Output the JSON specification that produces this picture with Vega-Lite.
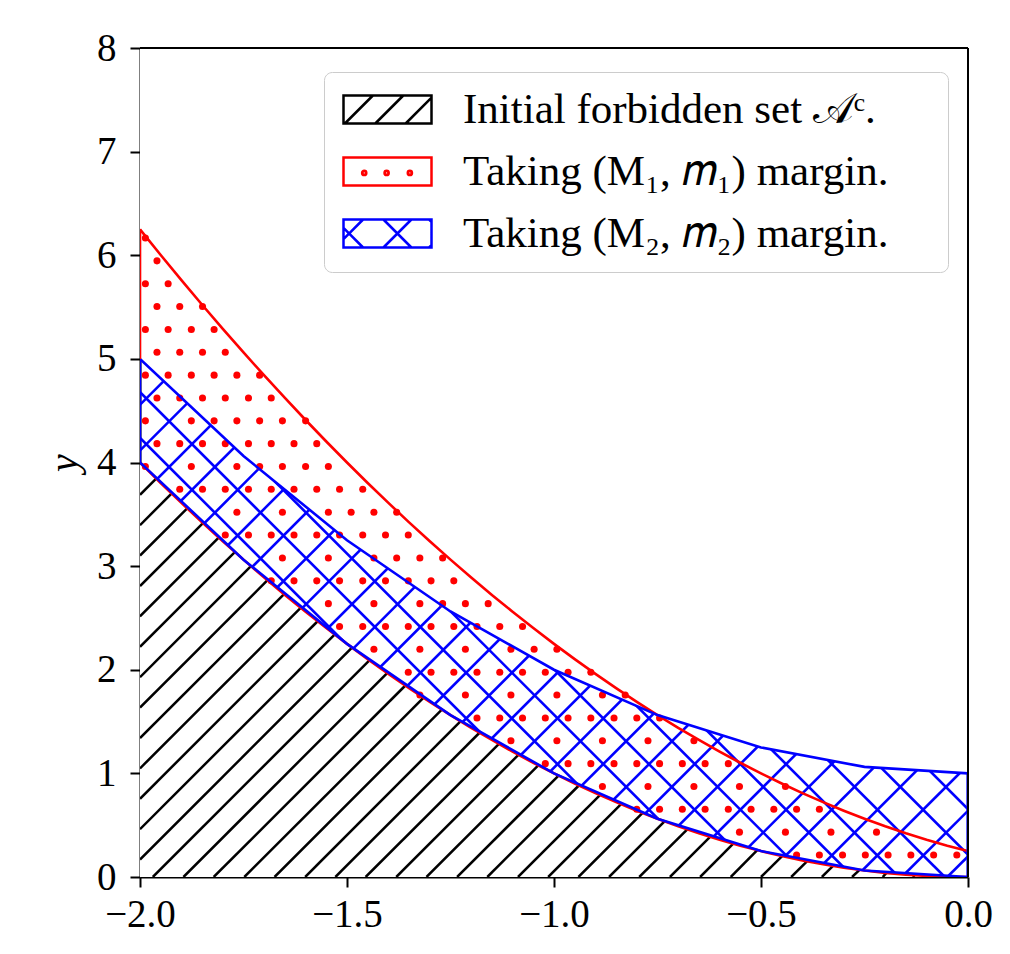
{
"$schema":"https://vega.github.io/schema/vega-lite/v6.json",
"width":828,"height":829,
"autosize":{"type":"none"},
"padding":{"left":140,"top":48,"right":42,"bottom":77},
"background":"white",
"datasets":{
"one":[{}],
"curves":[{"x":-2,"sq":4,"red":6.25},{"x":-1.95,"sq":3.8025,"red":6.0025},{"x":-1.9,"sq":3.61,"red":5.76},{"x":-1.85,"sq":3.4225,"red":5.5225},{"x":-1.8,"sq":3.24,"red":5.29},{"x":-1.75,"sq":3.0625,"red":5.0625},{"x":-1.7,"sq":2.89,"red":4.84},{"x":-1.65,"sq":2.7225,"red":4.6225},{"x":-1.6,"sq":2.56,"red":4.41},{"x":-1.55,"sq":2.4025,"red":4.2025},{"x":-1.5,"sq":2.25,"red":4.0},{"x":-1.45,"sq":2.1025,"red":3.8025},{"x":-1.4,"sq":1.96,"red":3.61},{"x":-1.35,"sq":1.8225,"red":3.4225},{"x":-1.3,"sq":1.69,"red":3.24},{"x":-1.25,"sq":1.5625,"red":3.0625},{"x":-1.2,"sq":1.44,"red":2.89},{"x":-1.15,"sq":1.3225,"red":2.7225},{"x":-1.1,"sq":1.21,"red":2.56},{"x":-1.05,"sq":1.1025,"red":2.4025},{"x":-1,"sq":1,"red":2.25},{"x":-0.95,"sq":0.9025,"red":2.1025},{"x":-0.9,"sq":0.81,"red":1.96},{"x":-0.85,"sq":0.7225,"red":1.8225},{"x":-0.8,"sq":0.64,"red":1.69},{"x":-0.75,"sq":0.5625,"red":1.5625},{"x":-0.7,"sq":0.49,"red":1.44},{"x":-0.65,"sq":0.4225,"red":1.3225},{"x":-0.6,"sq":0.36,"red":1.21},{"x":-0.55,"sq":0.3025,"red":1.1025},{"x":-0.5,"sq":0.25,"red":1.0},{"x":-0.45,"sq":0.2025,"red":0.9025},{"x":-0.4,"sq":0.16,"red":0.81},{"x":-0.35,"sq":0.1225,"red":0.7225},{"x":-0.3,"sq":0.09,"red":0.64},{"x":-0.25,"sq":0.0625,"red":0.5625},{"x":-0.2,"sq":0.04,"red":0.49},{"x":-0.15,"sq":0.0225,"red":0.4225},{"x":-0.1,"sq":0.01,"red":0.36},{"x":-0.05,"sq":0.0025,"red":0.3025},{"x":0,"sq":0,"red":0.25}],
"band":[{"x":-2,"lo":4,"hi":5},{"x":-1.75,"lo":3.0625,"hi":4.0625},{"x":-1.5,"lo":2.25,"hi":3.25},{"x":-1.25,"lo":1.5625,"hi":2.5625},{"x":-1,"lo":1,"hi":2},{"x":-0.75,"lo":0.5625,"hi":1.5625},{"x":-0.5,"lo":0.25,"hi":1.25},{"x":-0.25,"lo":0.0625,"hi":1.0625},{"x":0,"lo":0,"hi":1}],
"bh":[
{"x":-0.050,"y":0,"x2":1.952,"y2":8},{"x":-0.160,"y":0,"x2":1.842,"y2":8},{"x":-0.271,"y":0,"x2":1.732,"y2":8},{"x":-0.381,"y":0,"x2":1.621,"y2":8},{"x":-0.492,"y":0,"x2":1.511,"y2":8},{"x":-0.602,"y":0,"x2":1.400,"y2":8},{"x":-0.712,"y":0,"x2":1.290,"y2":8},{"x":-0.823,"y":0,"x2":1.180,"y2":8},{"x":-0.933,"y":0,"x2":1.069,"y2":8},{"x":-1.043,"y":0,"x2":0.959,"y2":8},{"x":-1.154,"y":0,"x2":0.849,"y2":8},{"x":-1.264,"y":0,"x2":0.738,"y2":8},{"x":-1.375,"y":0,"x2":0.628,"y2":8},{"x":-1.485,"y":0,"x2":0.517,"y2":8},{"x":-1.595,"y":0,"x2":0.407,"y2":8},{"x":-1.706,"y":0,"x2":0.297,"y2":8},{"x":-1.816,"y":0,"x2":0.186,"y2":8},{"x":-1.927,"y":0,"x2":0.076,"y2":8},{"x":-2.037,"y":0,"x2":-0.034,"y2":8},{"x":-2.147,"y":0,"x2":-0.145,"y2":8},{"x":-2.258,"y":0,"x2":-0.255,"y2":8},{"x":-2.368,"y":0,"x2":-0.366,"y2":8},{"x":-2.478,"y":0,"x2":-0.476,"y2":8},{"x":-2.589,"y":0,"x2":-0.587,"y2":8},{"x":-2.699,"y":0,"x2":-0.697,"y2":8},{"x":-2.810,"y":0,"x2":-0.807,"y2":8},{"x":-2.920,"y":0,"x2":-0.918,"y2":8},{"x":-3.030,"y":0,"x2":-1.028,"y2":8},{"x":-3.141,"y":0,"x2":-1.138,"y2":8},{"x":-3.251,"y":0,"x2":-1.249,"y2":8},
{"x":0.164,"y":0,"x2":-1.838,"y2":8},{"x":0.054,"y":0,"x2":-1.948,"y2":8},{"x":-0.056,"y":0,"x2":-2.059,"y2":8},{"x":-0.167,"y":0,"x2":-2.169,"y2":8},{"x":-0.277,"y":0,"x2":-2.280,"y2":8},{"x":-0.387,"y":0,"x2":-2.390,"y2":8},{"x":-0.498,"y":0,"x2":-2.500,"y2":8},{"x":-0.608,"y":0,"x2":-2.611,"y2":8},{"x":-0.719,"y":0,"x2":-2.721,"y2":8},{"x":-0.829,"y":0,"x2":-2.831,"y2":8},{"x":-0.939,"y":0,"x2":-2.942,"y2":8},{"x":-1.050,"y":0,"x2":-3.052,"y2":8},{"x":-1.160,"y":0,"x2":-3.163,"y2":8},{"x":-1.271,"y":0,"x2":-3.273,"y2":8},{"x":-1.381,"y":0,"x2":-3.383,"y2":8},{"x":-1.491,"y":0,"x2":-3.494,"y2":8},{"x":-1.602,"y":0,"x2":-3.604,"y2":8},{"x":-1.712,"y":0,"x2":-3.715,"y2":8},{"x":-1.822,"y":0,"x2":-3.825,"y2":8},{"x":-1.933,"y":0,"x2":-3.935,"y2":8}],
"kh":[{"x":-2,"y":3.982,"x2":-1.998,"y2":3.991},{"x":-2,"y":3.688,"x2":-1.961,"y2":3.845},{"x":-2,"y":3.395,"x2":-1.924,"y2":3.700},{"x":-2,"y":3.102,"x2":-1.886,"y2":3.557},{"x":-2,"y":2.808,"x2":-1.848,"y2":3.415},{"x":-2,"y":2.515,"x2":-1.810,"y2":3.275},{"x":-2,"y":2.221,"x2":-1.771,"y2":3.136},{"x":-2,"y":1.928,"x2":-1.732,"y2":2.999},{"x":-2,"y":1.635,"x2":-1.692,"y2":2.864},{"x":-2,"y":1.341,"x2":-1.652,"y2":2.730},{"x":-2,"y":1.048,"x2":-1.612,"y2":2.598},{"x":-2,"y":0.755,"x2":-1.571,"y2":2.468},{"x":-2,"y":0.461,"x2":-1.530,"y2":2.340},{"x":-2,"y":0.168,"x2":-1.488,"y2":2.214},{"x":-1.969,"y":0,"x2":-1.446,"y2":2.090},{"x":-1.895,"y":0,"x2":-1.403,"y2":1.968},{"x":-1.822,"y":0,"x2":-1.359,"y2":1.848},{"x":-1.748,"y":0,"x2":-1.315,"y2":1.730},{"x":-1.675,"y":0,"x2":-1.271,"y2":1.615},{"x":-1.601,"y":0,"x2":-1.226,"y2":1.502},{"x":-1.528,"y":0,"x2":-1.180,"y2":1.392},{"x":-1.455,"y":0,"x2":-1.133,"y2":1.284},{"x":-1.381,"y":0,"x2":-1.086,"y2":1.179},{"x":-1.308,"y":0,"x2":-1.038,"y2":1.078},{"x":-1.234,"y":0,"x2":-0.989,"y2":0.979},{"x":-1.161,"y":0,"x2":-0.940,"y2":0.883},{"x":-1.087,"y":0,"x2":-0.889,"y2":0.791},{"x":-1.014,"y":0,"x2":-0.838,"y2":0.703},{"x":-0.941,"y":0,"x2":-0.786,"y2":0.618},{"x":-0.867,"y":0,"x2":-0.733,"y2":0.537},{"x":-0.794,"y":0,"x2":-0.678,"y2":0.460},{"x":-0.720,"y":0,"x2":-0.623,"y2":0.388},{"x":-0.647,"y":0,"x2":-0.567,"y2":0.321},{"x":-0.573,"y":0,"x2":-0.509,"y2":0.259},{"x":-0.500,"y":0,"x2":-0.449,"y2":0.202},{"x":-0.427,"y":0,"x2":-0.389,"y2":0.151},{"x":-0.353,"y":0,"x2":-0.326,"y2":0.107},{"x":-0.280,"y":0,"x2":-0.262,"y2":0.069},{"x":-0.206,"y":0,"x2":-0.197,"y2":0.039},{"x":-0.133,"y":0,"x2":-0.129,"y2":0.017},{"x":-0.059,"y":0,"x2":-0.059,"y2":0.003}],
"dots":[
{"x":-0.027,"y":0.212},{"x":-0.083,"y":0.212},{"x":-0.138,"y":0.212},{"x":-0.193,"y":0.212},{"x":-0.248,"y":0.212},{"x":-0.303,"y":0.212},{"x":-0.359,"y":0.212},{"x":-0.414,"y":0.212},
{"x":-0.221,"y":0.433},{"x":-0.331,"y":0.433},{"x":-0.441,"y":0.433},{"x":-0.552,"y":0.433},
{"x":-0.359,"y":0.653},{"x":-0.414,"y":0.653},{"x":-0.469,"y":0.653},{"x":-0.524,"y":0.653},{"x":-0.579,"y":0.653},{"x":-0.635,"y":0.653},{"x":-0.690,"y":0.653},{"x":-0.745,"y":0.653},{"x":-0.800,"y":0.653},
{"x":-0.441,"y":0.874},{"x":-0.552,"y":0.874},{"x":-0.662,"y":0.874},{"x":-0.773,"y":0.874},{"x":-0.883,"y":0.874},
{"x":-0.579,"y":1.094},{"x":-0.635,"y":1.094},{"x":-0.690,"y":1.094},{"x":-0.745,"y":1.094},{"x":-0.800,"y":1.094},{"x":-0.855,"y":1.094},{"x":-0.911,"y":1.094},{"x":-0.966,"y":1.094},{"x":-1.021,"y":1.094},
{"x":-0.662,"y":1.315},{"x":-0.773,"y":1.315},{"x":-0.883,"y":1.315},{"x":-0.993,"y":1.315},{"x":-1.104,"y":1.315},
{"x":-0.745,"y":1.535},{"x":-0.800,"y":1.535},{"x":-0.855,"y":1.535},{"x":-0.911,"y":1.535},{"x":-0.966,"y":1.535},{"x":-1.021,"y":1.535},{"x":-1.076,"y":1.535},{"x":-1.131,"y":1.535},{"x":-1.186,"y":1.535},
{"x":-0.828,"y":1.756},{"x":-0.883,"y":1.756},{"x":-0.993,"y":1.756},{"x":-1.104,"y":1.756},{"x":-1.214,"y":1.756},{"x":-1.324,"y":1.756},
{"x":-0.911,"y":1.976},{"x":-0.966,"y":1.976},{"x":-1.021,"y":1.976},{"x":-1.076,"y":1.976},{"x":-1.131,"y":1.976},{"x":-1.186,"y":1.976},{"x":-1.242,"y":1.976},{"x":-1.297,"y":1.976},{"x":-1.352,"y":1.976},
{"x":-0.993,"y":2.197},{"x":-1.048,"y":2.197},{"x":-1.104,"y":2.197},{"x":-1.214,"y":2.197},{"x":-1.324,"y":2.197},{"x":-1.435,"y":2.197},
{"x":-1.076,"y":2.417},{"x":-1.131,"y":2.417},{"x":-1.186,"y":2.417},{"x":-1.242,"y":2.417},{"x":-1.297,"y":2.417},{"x":-1.352,"y":2.417},{"x":-1.407,"y":2.417},{"x":-1.462,"y":2.417},{"x":-1.518,"y":2.417},
{"x":-1.159,"y":2.638},{"x":-1.214,"y":2.638},{"x":-1.269,"y":2.638},{"x":-1.324,"y":2.638},{"x":-1.435,"y":2.638},{"x":-1.545,"y":2.638},
{"x":-1.242,"y":2.858},{"x":-1.297,"y":2.858},{"x":-1.352,"y":2.858},{"x":-1.407,"y":2.858},{"x":-1.462,"y":2.858},{"x":-1.518,"y":2.858},{"x":-1.573,"y":2.858},{"x":-1.628,"y":2.858},{"x":-1.683,"y":2.858},
{"x":-1.269,"y":3.079},{"x":-1.324,"y":3.079},{"x":-1.380,"y":3.079},{"x":-1.435,"y":3.079},{"x":-1.545,"y":3.079},{"x":-1.656,"y":3.079},
{"x":-1.352,"y":3.300},{"x":-1.407,"y":3.300},{"x":-1.462,"y":3.300},{"x":-1.518,"y":3.300},{"x":-1.573,"y":3.300},{"x":-1.628,"y":3.300},{"x":-1.683,"y":3.300},{"x":-1.738,"y":3.300},{"x":-1.794,"y":3.300},
{"x":-1.380,"y":3.520},{"x":-1.435,"y":3.520},{"x":-1.490,"y":3.520},{"x":-1.545,"y":3.520},{"x":-1.656,"y":3.520},{"x":-1.766,"y":3.520},
{"x":-1.462,"y":3.741},{"x":-1.518,"y":3.741},{"x":-1.573,"y":3.741},{"x":-1.628,"y":3.741},{"x":-1.683,"y":3.741},{"x":-1.738,"y":3.741},{"x":-1.794,"y":3.741},{"x":-1.849,"y":3.741},{"x":-1.904,"y":3.741},
{"x":-1.545,"y":3.961},{"x":-1.600,"y":3.961},{"x":-1.656,"y":3.961},{"x":-1.711,"y":3.961},{"x":-1.766,"y":3.961},{"x":-1.876,"y":3.961},{"x":-1.987,"y":3.961},
{"x":-1.573,"y":4.182},{"x":-1.628,"y":4.182},{"x":-1.683,"y":4.182},{"x":-1.738,"y":4.182},{"x":-1.794,"y":4.182},{"x":-1.849,"y":4.182},{"x":-1.904,"y":4.182},{"x":-1.959,"y":4.182},
{"x":-1.600,"y":4.402},{"x":-1.656,"y":4.402},{"x":-1.711,"y":4.402},{"x":-1.766,"y":4.402},{"x":-1.821,"y":4.402},{"x":-1.876,"y":4.402},{"x":-1.987,"y":4.402},
{"x":-1.683,"y":4.623},{"x":-1.738,"y":4.623},{"x":-1.794,"y":4.623},{"x":-1.849,"y":4.623},{"x":-1.904,"y":4.623},{"x":-1.959,"y":4.623},
{"x":-1.711,"y":4.843},{"x":-1.766,"y":4.843},{"x":-1.821,"y":4.843},{"x":-1.876,"y":4.843},{"x":-1.932,"y":4.843},{"x":-1.987,"y":4.843},
{"x":-1.794,"y":5.064},{"x":-1.849,"y":5.064},{"x":-1.904,"y":5.064},{"x":-1.959,"y":5.064},
{"x":-1.821,"y":5.284},{"x":-1.876,"y":5.284},{"x":-1.932,"y":5.284},{"x":-1.987,"y":5.284},
{"x":-1.849,"y":5.505},{"x":-1.904,"y":5.505},{"x":-1.959,"y":5.505},
{"x":-1.932,"y":5.725},{"x":-1.987,"y":5.725},
{"x":-1.959,"y":5.946},
{"x":-1.987,"y":6.166}],
"leg":[{"s":"Initial forbidden set 𝒜ᶜ.","x":-5,"y":-5},{"s":"Taking (M₁, 𝑚₁) margin.","x":-5,"y":-5},{"s":"Taking (M₂, 𝑚₂) margin.","x":-5,"y":-5}]
},
"layer":[
{"data":{"name":"bh"},"mark":{"type":"rule","clip":true,"color":"#0000ff","strokeWidth":2.6},
 "encoding":{"x":{"field":"x","type":"quantitative","scale":{"domain":[-2,0],"nice":false,"zero":false},"axis":{"title":null,"values":[-2,-1.5,-1,-0.5,0],"format":".1f"}},
 "y":{"field":"y","type":"quantitative","scale":{"domain":[0,8],"nice":false,"zero":false},"axis":{"title":"y","values":[0,1,2,3,4,5,6,7,8],"format":"d"}},
 "x2":{"field":"x2"},"y2":{"field":"y2"}}},
{"data":{"name":"band"},"mark":{"type":"area","clip":true,"color":"white","opacity":1},
 "encoding":{"x":{"field":"x","type":"quantitative","scale":{"domain":[-2,0],"nice":false,"zero":false},"axis":{"title":null,"values":[-2,-1.5,-1,-0.5,0],"format":".1f"}},
 "y":{"field":"hi","type":"quantitative","scale":{"domain":[0,8],"nice":false,"zero":false},"axis":{"title":"y","values":[0,1,2,3,4,5,6,7,8],"format":"d"}},
 "y2":{"datum":8}}},
{"data":{"name":"band"},"mark":{"type":"area","clip":true,"color":"white","opacity":1},
 "encoding":{"x":{"field":"x","type":"quantitative","scale":{"domain":[-2,0],"nice":false,"zero":false},"axis":{"title":null,"values":[-2,-1.5,-1,-0.5,0],"format":".1f"}},
 "y":{"field":"lo","type":"quantitative","scale":{"domain":[0,8],"nice":false,"zero":false},"axis":{"title":"y","values":[0,1,2,3,4,5,6,7,8],"format":"d"}},
 "y2":{"datum":0}}},
{"data":{"name":"dots"},"mark":{"type":"point","clip":true,"filled":true,"color":"#ff0000","size":50,"opacity":1},
 "encoding":{"x":{"field":"x","type":"quantitative","scale":{"domain":[-2,0],"nice":false,"zero":false},"axis":{"title":null,"values":[-2,-1.5,-1,-0.5,0],"format":".1f"}},
 "y":{"field":"y","type":"quantitative","scale":{"domain":[0,8],"nice":false,"zero":false},"axis":{"title":"y","values":[0,1,2,3,4,5,6,7,8],"format":"d"}}}},
{"data":{"name":"kh"},"mark":{"type":"rule","clip":true,"color":"#000000","strokeWidth":2.5},
 "encoding":{"x":{"field":"x","type":"quantitative","scale":{"domain":[-2,0],"nice":false,"zero":false},"axis":{"title":null,"values":[-2,-1.5,-1,-0.5,0],"format":".1f"}},
 "y":{"field":"y","type":"quantitative","scale":{"domain":[0,8],"nice":false,"zero":false},"axis":{"title":"y","values":[0,1,2,3,4,5,6,7,8],"format":"d"}},
 "x2":{"field":"x2"},"y2":{"field":"y2"}}},
{"data":{"name":"curves"},"mark":{"type":"line","clip":true,"color":"#ff0000","strokeWidth":2.6},
 "encoding":{"x":{"field":"x","type":"quantitative","scale":{"domain":[-2,0],"nice":false,"zero":false},"axis":{"title":null,"values":[-2,-1.5,-1,-0.5,0],"format":".1f"}},
 "y":{"field":"sq","type":"quantitative","scale":{"domain":[0,8],"nice":false,"zero":false},"axis":{"title":"y","values":[0,1,2,3,4,5,6,7,8],"format":"d"}}}},
{"data":{"name":"curves"},"mark":{"type":"line","clip":true,"color":"#ff0000","strokeWidth":2.6},
 "encoding":{"x":{"field":"x","type":"quantitative","scale":{"domain":[-2,0],"nice":false,"zero":false},"axis":{"title":null,"values":[-2,-1.5,-1,-0.5,0],"format":".1f"}},
 "y":{"field":"red","type":"quantitative","scale":{"domain":[0,8],"nice":false,"zero":false},"axis":{"title":"y","values":[0,1,2,3,4,5,6,7,8],"format":"d"}}}},
{"data":{"name":"band"},"mark":{"type":"line","clip":true,"color":"#0000ff","strokeWidth":2.6},
 "encoding":{"x":{"field":"x","type":"quantitative","scale":{"domain":[-2,0],"nice":false,"zero":false},"axis":{"title":null,"values":[-2,-1.5,-1,-0.5,0],"format":".1f"}},
 "y":{"field":"lo","type":"quantitative","scale":{"domain":[0,8],"nice":false,"zero":false},"axis":{"title":"y","values":[0,1,2,3,4,5,6,7,8],"format":"d"}}}},
{"data":{"name":"band"},"mark":{"type":"line","clip":true,"color":"#0000ff","strokeWidth":2.6},
 "encoding":{"x":{"field":"x","type":"quantitative","scale":{"domain":[-2,0],"nice":false,"zero":false},"axis":{"title":null,"values":[-2,-1.5,-1,-0.5,0],"format":".1f"}},
 "y":{"field":"hi","type":"quantitative","scale":{"domain":[0,8],"nice":false,"zero":false},"axis":{"title":"y","values":[0,1,2,3,4,5,6,7,8],"format":"d"}}}},
{"data":{"name":"one"},"mark":{"type":"rule","clip":true,"color":"#ff0000","strokeWidth":2.6},
 "encoding":{"x":{"datum":-2,"type":"quantitative"},"y":{"datum":5,"type":"quantitative"},"y2":{"datum":6.25}}},
{"data":{"name":"one"},"mark":{"type":"rule","clip":true,"color":"#0000ff","strokeWidth":2.6},
 "encoding":{"x":{"datum":-2,"type":"quantitative"},"y":{"datum":4,"type":"quantitative"},"y2":{"datum":5}}},
{"data":{"name":"one"},"mark":{"type":"rule","clip":true,"color":"#0000ff","strokeWidth":3.2},
 "encoding":{"x":{"datum":0,"type":"quantitative"},"y":{"datum":0,"type":"quantitative"},"y2":{"datum":1}}},
{"data":{"name":"one"},"mark":{"type":"rule","color":"#000000","strokeWidth":2},
 "encoding":{"y":{"datum":8,"type":"quantitative"}}},
{"data":{"name":"one"},"mark":{"type":"rule","color":"#000000","strokeWidth":2},
 "encoding":{"x":{"datum":0,"type":"quantitative"}}},
{"data":{"name":"leg"},"mark":{"type":"point","clip":true,"filled":false,"opacity":0},
 "encoding":{"x":{"field":"x","type":"quantitative","scale":{"domain":[-2,0],"nice":false,"zero":false},"axis":{"title":null,"values":[-2,-1.5,-1,-0.5,0],"format":".1f"}},
 "y":{"field":"y","type":"quantitative","scale":{"domain":[0,8],"nice":false,"zero":false},"axis":{"title":"y","values":[0,1,2,3,4,5,6,7,8],"format":"d"}},
 "stroke":{"field":"s","type":"nominal","scale":{"domain":["Initial forbidden set 𝒜ᶜ.","Taking (M₁, 𝑚₁) margin.","Taking (M₂, 𝑚₂) margin."],"range":["#000000","#ff0000","#0000ff"]},
  "legend":{"title":" ","titleOrient":"right","titlePadding":44,"titleFontSize":10,"orient":"none","legendX":184,"legendY":24,"symbolSize":784,"symbolOffset":-4,"symbolStrokeWidth":2.5,"labelFont":"Liberation Serif","labelFontSize":43,"labelColor":"black","labelOffset":84,"labelLimit":2000,"rowPadding":18,"padding":16,"cornerRadius":8,"strokeColor":"#cccccc","fillColor":"white","zindex":2,
   "encode":{"symbols":{"update":{"opacity":{"value":1},"fill":{"value":"transparent"},"strokeWidth":{"value":2.5}}},"legend":{"update":{"strokeWidth":{"value":2.5}}}}}},
 "shape":{"field":"s","type":"nominal","scale":{"domain":["Initial forbidden set 𝒜ᶜ.","Taking (M₁, 𝑚₁) margin.","Taking (M₂, 𝑚₂) margin."],"range":["M-1,-1H5.286V1H-1ZM-0.9,1L1.1,-1M1.27,1L3.27,-1M3.44,1L5.286,-0.846","M-1,-1H5.286V1H-1ZM0.33,0.1a0.15,0.15 0 1,0 0.3,0a0.15,0.15 0 1,0 -0.3,0M0.43,0.1a0.05,0.05 0 1,0 0.1,0a0.05,0.05 0 1,0 -0.1,0M1.93,0.1a0.15,0.15 0 1,0 0.3,0a0.15,0.15 0 1,0 -0.3,0M2.03,0.1a0.05,0.05 0 1,0 0.1,0a0.05,0.05 0 1,0 -0.1,0M3.59,0.1a0.15,0.15 0 1,0 0.3,0a0.15,0.15 0 1,0 -0.3,0M3.69,0.1a0.05,0.05 0 1,0 0.1,0a0.05,0.05 0 1,0 -0.1,0","M-1,-1H5.286V1H-1ZM-1,0.4L0.4,-1M-1,-0.4L0.4,1M1.85,1L3.85,-1M1.85,-1L3.85,1M5.11,1L5.286,0.824M5.11,-1L5.286,-0.824"]},
  "legend":{"title":" ","titleOrient":"right","titlePadding":44,"titleFontSize":10,"orient":"none","legendX":184,"legendY":24,"symbolSize":784,"symbolOffset":-4,"symbolStrokeWidth":2.5,"labelFont":"Liberation Serif","labelFontSize":43,"labelColor":"black","labelOffset":84,"labelLimit":2000,"rowPadding":18,"padding":16,"cornerRadius":8,"strokeColor":"#cccccc","fillColor":"white","zindex":2,
   "encode":{"symbols":{"update":{"opacity":{"value":1},"fill":{"value":"transparent"},"strokeWidth":{"value":2.5}}},"legend":{"update":{"strokeWidth":{"value":2.5}}}}}}}}
],
"config":{
 "view":{"stroke":null},
 "axis":{"domainColor":"#000000","domainWidth":2,"tickColor":"#000000","tickWidth":2,"tickSize":10,"labelColor":"#000000","labelFont":"Liberation Serif","labelFontSize":39,"grid":false,"zindex":1,"labelFlush":false,"labelOverlap":false,"labelBound":false,"titleFont":"Liberation Serif","titleFontSize":40,"titleFontWeight":"normal","titleFontStyle":"italic","titleColor":"#000000"},
 "axisX":{"labelPadding":8},
 "axisY":{"labelPadding":14,"titlePadding":12}
}
}
